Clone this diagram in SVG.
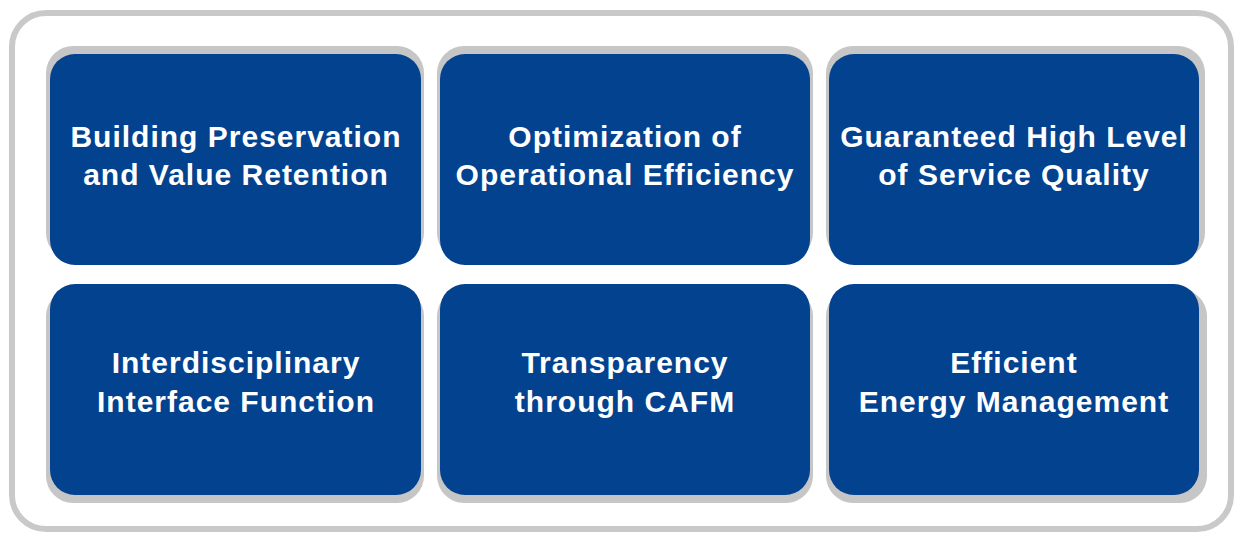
<svg xmlns="http://www.w3.org/2000/svg" width="1241" height="539" viewBox="0 0 1241 539">
<style>
.frame{fill:#ffffff;stroke:#c9c9c9;stroke-width:6}
.sh{fill:#c6c6c6}
.box{fill:#03428f}
.t{font-family:"Liberation Sans",Arial,sans-serif;font-weight:bold;font-size:30px;fill:#ffffff;text-anchor:middle;letter-spacing:1px}
</style>
<rect width="1241" height="539" fill="#ffffff"/>
<rect class="frame" x="12" y="13" width="1219" height="516" rx="34"/>
<g id="n1">
<rect class="sh" x="46" y="46" width="378" height="214" rx="27"/>
<rect class="box" x="50" y="54" width="371" height="211" rx="25"/>
<text class="t" x="236" y="147">Building Preservation</text>
<text class="t" x="236" y="185">and Value Retention</text>
</g>
<g id="n2">
<rect class="sh" x="437" y="46" width="376" height="214" rx="27"/>
<rect class="box" x="440" y="54" width="370" height="211" rx="25"/>
<text class="t" x="625" y="147">Optimization of</text>
<text class="t" x="625" y="185">Operational Efficiency</text>
</g>
<g id="n3">
<rect class="sh" x="826" y="46" width="379" height="214" rx="27"/>
<rect class="box" x="829" y="54" width="370" height="211" rx="25"/>
<text class="t" x="1014" y="147">Guaranteed High Level</text>
<text class="t" x="1014" y="185">of Service Quality</text>
</g>
<g id="n4">
<rect class="sh" x="46" y="289" width="378" height="214" rx="27"/>
<rect class="box" x="50" y="284" width="371" height="211" rx="25"/>
<text class="t" x="236" y="373">Interdisciplinary</text>
<text class="t" x="236" y="412">Interface Function</text>
</g>
<g id="n5">
<rect class="sh" x="437" y="289" width="376" height="214" rx="27"/>
<rect class="box" x="440" y="284" width="370" height="211" rx="25"/>
<text class="t" x="625" y="373">Transparency</text>
<text class="t" x="625" y="412">through CAFM</text>
</g>
<g id="n6">
<rect class="sh" x="826" y="289" width="381" height="214" rx="27"/>
<rect class="box" x="829" y="284" width="370" height="211" rx="25"/>
<text class="t" x="1014" y="373">Efficient</text>
<text class="t" x="1014" y="412">Energy Management</text>
</g>
<g id="connectors"/>
</svg>
